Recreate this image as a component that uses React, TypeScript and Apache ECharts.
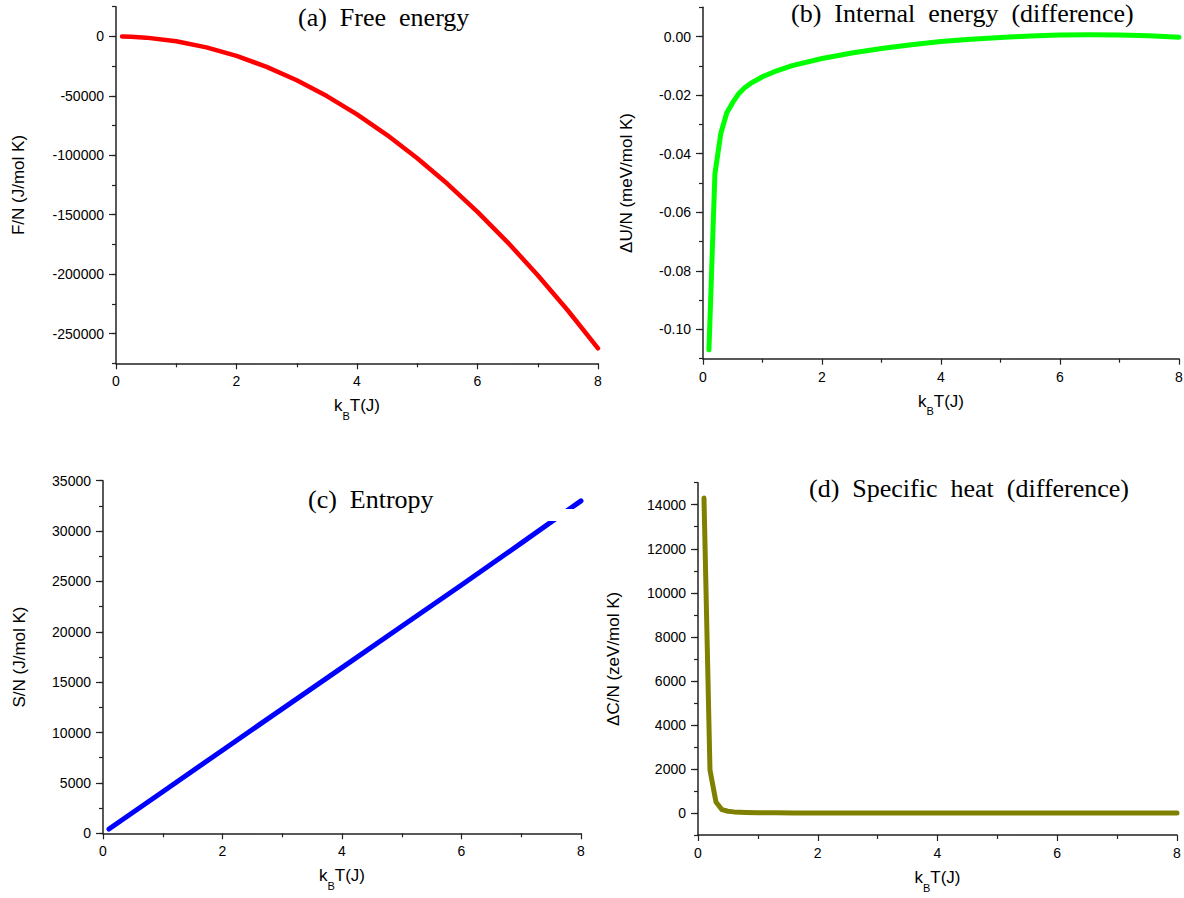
import React, { useEffect, useRef } from "react";
import * as echarts from "echarts";

// ---- data ----
const aT = [0.1, 0.25, 0.5, 1, 1.5, 2, 2.5, 3, 3.5, 4, 4.5, 5, 5.5, 6, 6.5, 7, 7.5, 8];
const aF = [-40, -260, -1020, -4100, -9200, -16400, -25600, -36900, -50200, -65600, -83000, -102500, -124000, -147600, -173200, -200900, -230600, -262400];

const bT = [0.1, 0.2, 0.3, 0.4, 0.5, 0.6, 0.7, 0.8, 1.0, 1.2, 1.5, 2, 2.5, 3, 3.5, 4, 4.5, 5, 5.5, 6, 6.5, 7, 7.5, 8];
const bU = [-0.107, -0.047, -0.033, -0.026, -0.0225, -0.0195, -0.0175, -0.016, -0.0137, -0.012, -0.0099, -0.0075, -0.0056, -0.0041, -0.0028, -0.0017, -0.0009, -0.0003, 0.0002, 0.0005, 0.0006, 0.0005, 0.0003, -0.0002];

const cT = [0.1, 1, 2, 3, 4, 5, 6, 7, 8];
const cS = [420, 4130, 8250, 12350, 16450, 20550, 24650, 28800, 33000];

const dT = [0.1, 0.2, 0.3, 0.4, 0.5, 0.6, 0.8, 1.0, 1.3, 1.6, 2, 3, 4, 5, 6, 7, 8];
const dC = [14300, 1950, 500, 150, 80, 50, 25, 10, 15, -5, 0, 0, 0, 0, 0, 0, 0];

const xTicks = [0, 2, 4, 6, 8];
const aYTicks = [-250000, -200000, -150000, -100000, -50000, 0];
const bYTicks = [-0.1, -0.08, -0.06, -0.04, -0.02, 0];
const cYTicks = [0, 5000, 10000, 15000, 20000, 25000, 30000, 35000];
const dYTicks = [0, 2000, 4000, 6000, 8000, 10000, 12000, 14000];

const titles = ["(a)  Free  energy", "(b)  Internal  energy  (difference)", "(c)  Entropy", "(d)  Specific  heat  (difference)"];
const yNames = ["F/N (J/mol K)", "\u0394U/N (meV/mol K)", "S/N (J/mol K)", "\u0394C/N (zeV/mol K)"];

const SANS = "Liberation Sans, Arial, sans-serif";
const SERIF = "Liberation Serif, Times New Roman, serif";
const AXC = "#222";

const grids = [
  { left: 116, top: 6.7, width: 482, height: 356.6 },
  { left: 703, top: 7.3, width: 476, height: 351.4 },
  { left: 103, top: 480.7, width: 478, height: 352.6 },
  { left: 698, top: 482.7, width: 479, height: 352.3 },
];
const yCfg = [
  { min: -275000, max: 25000, step: 25000, ticks: aYTicks, gap: 89, fmt: (v: number) => String(v) },
  { min: -0.11, max: 0.01, step: 0.01, ticks: bYTicks, gap: 68, fmt: (v: number) => v.toFixed(2) },
  { min: 0, max: 35000, step: 2500, ticks: cYTicks, gap: 75, fmt: (v: number) => String(v) },
  { min: -1000, max: 15000, step: 1000, ticks: dYTicks, gap: 76, fmt: (v: number) => String(v) },
];
const titlePos = [
  { left: 298, top: 4 },
  { left: 791, top: 0 },
  { left: 308, top: 486 },
  { left: 809, top: 475 },
];
const seriesSets = [
  { x: aT, y: aF, color: "#ff0000", w: 4.5 },
  { x: bT, y: bU, color: "#00ff00", w: 5 },
  { x: cT, y: cS, color: "#0000ff", w: 5 },
  { x: dT, y: dC, color: "#808000", w: 5 },
];

export default function App() {
  const ref = useRef<HTMLDivElement>(null);
  useEffect(() => {
    if (!ref.current) return;
    const chart = echarts.init(ref.current, null, { renderer: "svg" });
    const xAxis: any[] = [];
    const yAxis: any[] = [];
    const series: any[] = [];
    grids.forEach((g, i) => {
      xAxis.push({
        type: "value",
        gridIndex: i,
        min: 0,
        max: 8,
        interval: 2,
        name: "{n|k}{s|B}{n|T(J)}",
        nameLocation: "middle",
        nameGap: 34,
        nameTextStyle: {
          rich: {
            n: { fontSize: 17, fontFamily: SANS, color: "#000", lineHeight: 20, verticalAlign: "top" },
            s: { fontSize: 11, fontFamily: SANS, color: "#000", lineHeight: 11, padding: [13, 0, 0, 0], verticalAlign: "top" },
          },
        },
        axisLine: { show: true, onZero: false, lineStyle: { color: AXC, width: 1.5 } },
        axisTick: { show: true, length: 6, lineStyle: { color: AXC, width: 1.2 } },
        minorTick: { show: true, splitNumber: 2, length: 4, lineStyle: { color: AXC, width: 1.2 } },
        splitLine: { show: false },
        minorSplitLine: { show: false },
        axisLabel: { margin: 11, fontSize: 14, fontFamily: SANS, color: "#000", customValues: xTicks },
      });
      const c = yCfg[i];
      yAxis.push({
        type: "value",
        gridIndex: i,
        min: c.min,
        max: c.max,
        interval: c.step,
        name: yNames[i],
        nameLocation: "middle",
        nameGap: c.gap,
        nameRotate: 90,
        nameTextStyle: { fontSize: 17, fontFamily: SANS, color: "#000" },
        axisLine: { show: true, onZero: false, lineStyle: { color: AXC, width: 1.5 } },
        axisTick: { show: true, length: 4, lineStyle: { color: AXC, width: 1.2 } },
        splitLine: { show: false },
        axisLabel: {
          margin: 12,
          fontSize: 14,
          fontFamily: SANS,
          color: "#000",
          customValues: c.ticks,
          formatter: c.fmt,
        },
      });
      yAxis.push({
        type: "value",
        gridIndex: i,
        min: c.min,
        max: c.max,
        position: "left",
        axisLine: { show: false },
        axisTick: { show: true, length: 7, customValues: c.ticks, lineStyle: { color: AXC, width: 1.2 } },
        axisLabel: { show: false },
        splitLine: { show: false },
      });
      const s = seriesSets[i];
      series.push({
        type: "line",
        xAxisIndex: i,
        yAxisIndex: i * 2,
        data: s.x.map((t, k) => [t, s.y[k]]),
        showSymbol: false,
        symbol: "none",
        lineStyle: { color: s.color, width: s.w, cap: "round", join: "round" },
        z: 3,
      });
    });
    const option: any = {
      animation: false,
      backgroundColor: "#fff",
      title: titles.map((t, i) => ({
        text: t,
        left: titlePos[i].left,
        top: titlePos[i].top,
        padding: 0,
        textStyle: { fontFamily: SERIF, fontSize: 26, fontWeight: "normal", color: "#000" },
      })),
      grid: grids.map((g) => ({ ...g, containLabel: false, outerBoundsMode: "none" })),
      xAxis,
      yAxis,
      series,
      graphic: [
        { type: "rect", z: 100, shape: { x: 545, y: 509, width: 30, height: 12 }, style: { fill: "#fff" } },
      ],
    };
    chart.setOption(option);
    return () => chart.dispose();
  }, []);
  return <div ref={ref} style={{ position: "absolute", left: 0, top: 0, width: 1184, height: 898 }} />;
}
